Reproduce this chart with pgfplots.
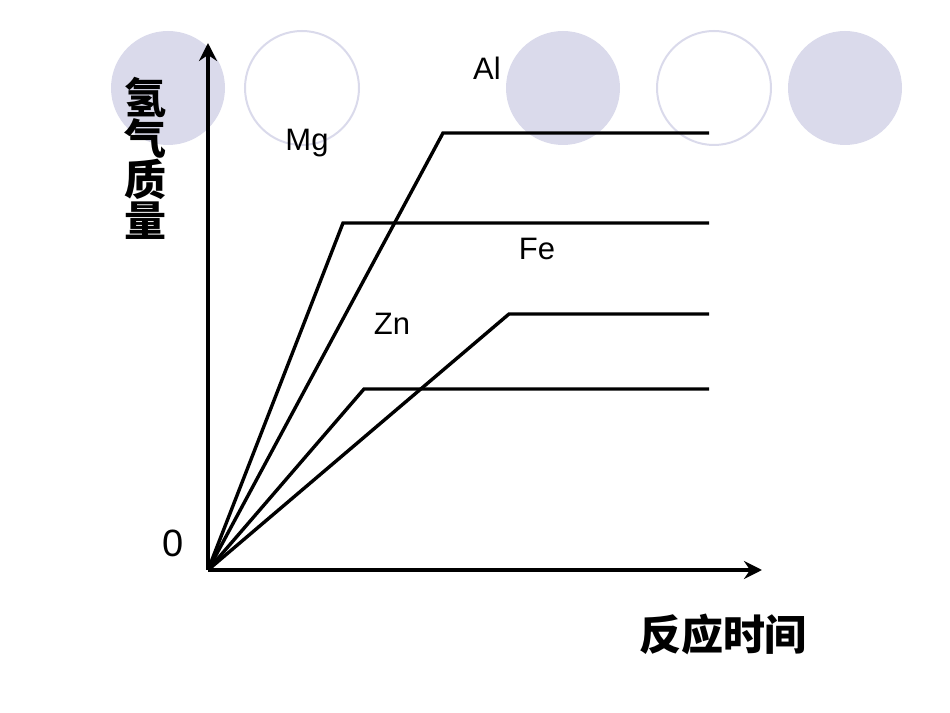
\documentclass[border=0pt]{standalone}
\usepackage{pgfplots}
\pgfplotsset{compat=1.18}
\usetikzlibrary{arrows.meta}
\usepackage{fontspec}
\setmainfont{Liberation Sans}
\newfontfamily\cjk{Noto Sans CJK SC}
\definecolor{lav}{HTML}{DADAEB}
\tikzset{metal/.style={black, line width=1.7pt, line join=miter, mark=none}}

\begin{document}
\begin{tikzpicture}
\path[use as bounding box] (0,0) rectangle (475pt,356.5pt);
% decorative circles behind the chart
\fill[lav] (84pt,312.5pt) circle[radius=28.5pt];
\fill[lav] (281.5pt,312.5pt) circle[radius=28.5pt];
\fill[lav] (422.5pt,312.5pt) circle[radius=28.5pt];
\draw[lav,line width=1pt] (151pt,312.5pt) circle[radius=28.5pt];
\draw[lav,line width=1pt] (357pt,312.5pt) circle[radius=28.5pt];

\begin{axis}[
    at={(104pt,71.5pt)}, anchor=south west,
    x=0.5pt, y=0.5pt,
    xmin=0, xmax=554,
    ymin=0, ymax=527,
    axis lines=left,
    axis line style={line width=1.8pt, -{Stealth[length=9pt,width=9pt,inset=3pt]}},
    ticks=none,
    clip=false,
]
\addplot[metal] coordinates {(0,0) (135,347) (501,347)}; % Mg
\addplot[metal] coordinates {(0,0) (235,437) (501,437)}; % Al
\addplot[metal] coordinates {(0,0) (156,181) (501,181)}; % Zn
\addplot[metal] coordinates {(0,0) (301,256) (501,256)}; % Fe

\node[font=\fontsize{15.5pt}{18pt}\selectfont] at (axis cs:279,502) {Al};
\node[font=\fontsize{15.5pt}{18pt}\selectfont] at (axis cs:99,427) {Mg};
\node[font=\fontsize{15.5pt}{18pt}\selectfont] at (axis cs:329,321) {Fe};
\node[font=\fontsize{15.5pt}{18pt}\selectfont] at (axis cs:184,246) {Zn};
\node[font=\fontsize{19pt}{22pt}\selectfont] at (axis cs:-35,27) {0};
\node[font=\cjk\bfseries\fontsize{21pt}{20.5pt}\selectfont, align=center]
    at (axis cs:-62,412) {氢\\气\\质\\量};
\node[font=\cjk\bfseries\fontsize{21pt}{24pt}\selectfont] at (axis cs:515,-64) {反应时间};
\end{axis}
\end{tikzpicture}
\end{document}
